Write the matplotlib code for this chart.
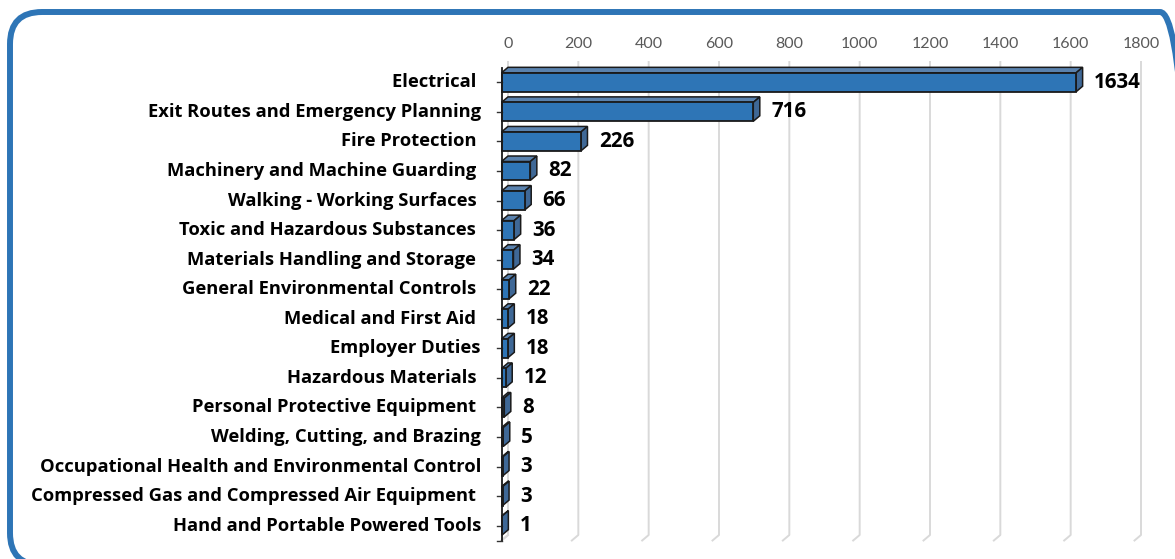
import matplotlib
matplotlib.use("Agg")
import matplotlib.pyplot as plt
from matplotlib.patches import Polygon, FancyBboxPatch

# Violation counts by category
categories = [
    "Electrical ",
    "Exit Routes and Emergency Planning",
    "Fire Protection ",
    "Machinery and Machine Guarding ",
    "Walking - Working Surfaces ",
    "Toxic and Hazardous Substances ",
    "Materials Handling and Storage ",
    "General Environmental Controls ",
    "Medical and First Aid ",
    "Employer Duties",
    "Hazardous Materials ",
    "Personal Protective Equipment ",
    "Welding, Cutting, and Brazing",
    "Occupational Health and Environmental Control",
    "Compressed Gas and Compressed Air Equipment ",
    "Hand and Portable Powered Tools",
]
counts = [1634, 716, 226, 82, 66, 36, 34, 22, 18, 18, 12, 8, 5, 3, 3, 1]
x_ticks = [0, 200, 400, 600, 800, 1000, 1200, 1400, 1600, 1800]

W, H, DPI = 1175, 559, 100
fig = plt.figure(figsize=(W / DPI, H / DPI), dpi=DPI)

# rounded outer frame, laid out in inches so the corners stay circular
fx0, fx1 = 10 / DPI, 1192 / DPI
fy0, fy1 = (H - 565) / DPI, (H - 12) / DPI
frame = FancyBboxPatch((fx0, fy0), fx1 - fx0, fy1 - fy0,
                       boxstyle="round,pad=0,rounding_size=0.32",
                       transform=fig.dpi_scale_trans, fill=False,
                       edgecolor="#2E75B6", linewidth=4.3, clip_on=False)
fig.patches.append(frame)

# back plane of the 3D plot
left_px, right_px, top_px, bot_px = 508, 1141, 62, 535
ax = fig.add_axes([left_px / W, 1 - bot_px / H,
                   (right_px - left_px) / W, (bot_px - top_px) / H])
xmax = 1800
n = len(categories)
ax.set_xlim(0, xmax)
ax.set_ylim(n - 0.5, -0.5)
for s in ax.spines.values():
    s.set_visible(False)
ax.set_facecolor("none")

# pixel -> data conversions for the 3D depth
px_x = xmax / (right_px - left_px)
px_y = n / (bot_px - top_px)
dx = 6.5 * px_x          # depth shift to the left
dy = 5.5 * px_y          # depth shift downward
bh = 0.64                # bar thickness

# gridlines on the back wall with floor slant
grid_c = "#D9D9D9"
for t in x_ticks:
    ax.plot([t, t, t - dx], [-0.5, n - 0.5, n - 0.5 + dy],
            color=grid_c, lw=1.4, clip_on=False, zorder=1)
ax.plot([0, -dx], [n - 0.5, n - 0.5 + dy], color=grid_c, lw=1.4,
        clip_on=False, zorder=1)

front_c = "#2E75B6"
top_c = "#5A82AE"
side_c = "#3F6896"
edge_c = "#1a1a1a"

for i, v in enumerate(counts):
    yc = i + dy
    ft, fb = yc - bh / 2, yc + bh / 2
    x0, x1 = -dx, v - dx
    # top face
    ax.add_patch(Polygon([(x0, ft), (x1, ft), (v, ft - dy), (0, ft - dy)],
                         closed=True, facecolor=top_c, edgecolor=edge_c,
                         lw=1.1, clip_on=False, zorder=3))
    # side face
    ax.add_patch(Polygon([(x1, ft), (v, ft - dy), (v, fb - dy), (x1, fb)],
                         closed=True, facecolor=side_c, edgecolor=edge_c,
                         lw=1.1, clip_on=False, zorder=3))
    # front face
    ax.add_patch(Polygon([(x0, ft), (x1, ft), (x1, fb), (x0, fb)],
                         closed=True, facecolor=front_c, edgecolor=edge_c,
                         lw=1.3, clip_on=False, zorder=4))
    # value label
    ax.text(v + 11.5 * px_x, yc, str(v), ha="left", va="center",
            fontsize=14.8, fontweight="bold", family="Open Sans",
            color="black", clip_on=False, zorder=5)
    # category label
    ax.text(-(508 - 481) * px_x, yc, categories[i], ha="right", va="center",
            fontsize=13.2, fontweight="bold", family="Open Sans",
            color="black", clip_on=False, zorder=5)
    # tick on the front axis
    ax.plot([-dx - 5 * px_x, -dx], [yc, yc], color="#333333", lw=1.0,
            clip_on=False, zorder=5)

# front vertical axis
ax.plot([-dx, -dx], [-0.5 + dy, n - 0.5 + dy], color="#1a1a1a", lw=1.3,
        clip_on=False, zorder=5)
ax.plot([-dx - 5 * px_x, -dx], [n - 0.5 + dy, n - 0.5 + dy],
        color="#333333", lw=1.0, clip_on=False, zorder=5)

# top value axis labels
ax.xaxis.tick_top()
ax.set_xticks(x_ticks)
ax.set_xticklabels([str(t) for t in x_ticks], fontsize=11.5,
                   family="Lato", color="#595959")
ax.tick_params(axis="x", length=0, pad=8)
ax.set_yticks([])

fig.savefig("out.png", dpi=DPI)
